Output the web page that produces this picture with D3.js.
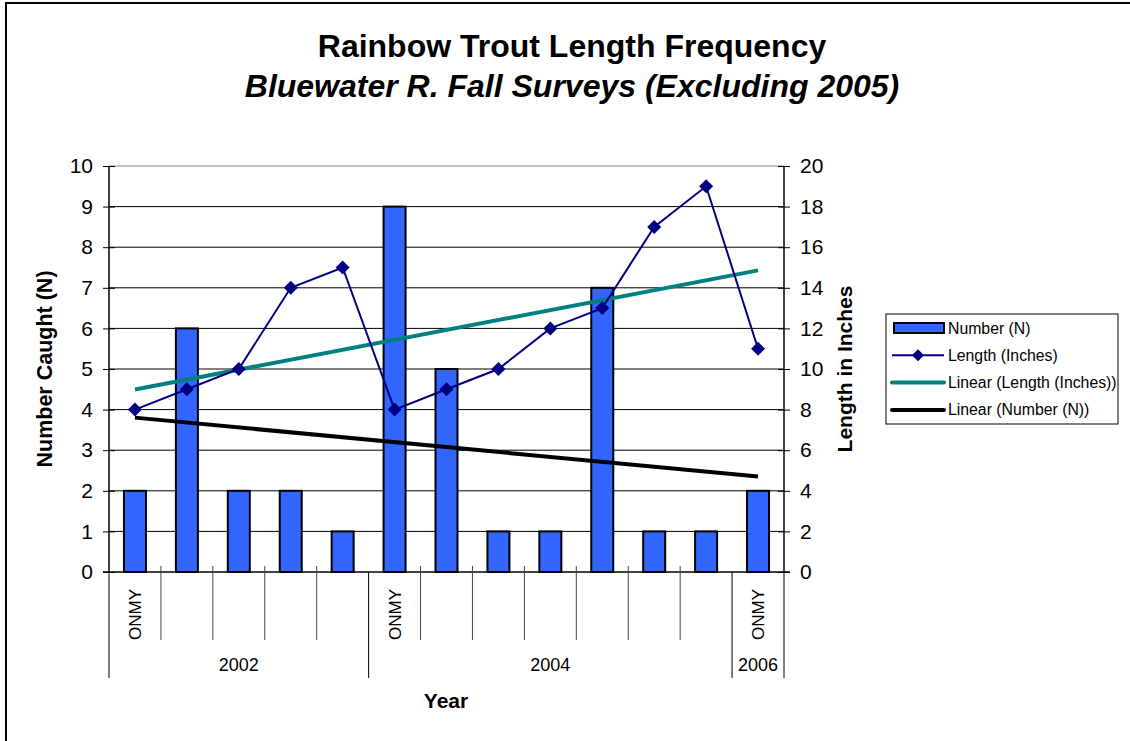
<!DOCTYPE html>
<html>
<head>
<meta charset="utf-8">
<script src="https://cdn.jsdelivr.net/npm/d3@7"></script>
<style>
  body { margin: 0; background: #fff; }
  text { font-family: "Liberation Sans", Arial, sans-serif; }
</style>
</head>
<body>
<script>
// data
var groups = ['2002', '2004', '2006'];
var groupSizes = [5, 7, 1];
var catLabels = ['ONMY', '', '', '', '', 'ONMY', '', '', '', '', '', '', 'ONMY'];
var numbers = [2, 6, 2, 2, 1, 9, 5, 1, 1, 7, 1, 1, 2];
var lengths = [8, 9, 10, 14, 15, 8, 9, 10, 12, 13, 17, 19, 11];
var leftTicks = [0, 1, 2, 3, 4, 5, 6, 7, 8, 9, 10];
var rightTicks = [0, 2, 4, 6, 8, 10, 12, 14, 16, 18, 20];

var width = 1130,
    height = 741,
    pL = 109, pR = 784, pT = 166, pB = 572;

var svg = d3.select("body").append("svg")
    .attr("width", width)
    .attr("height", height);

// outer chart border
svg.append("rect")
    .attr("x", 6).attr("y", 3)
    .attr("width", width + 20).attr("height", height + 20)
    .attr("fill", "none").attr("stroke", "#000").attr("stroke-width", 2);

var idx = d3.range(numbers.length);
var x = d3.scaleBand().domain(idx).range([pL, pR]);
var yL = d3.scaleLinear().domain([0, 10]).range([pB, pT]);
var yR = d3.scaleLinear().domain([0, 20]).range([pB, pT]);

// gridlines
svg.selectAll(".grid")
    .data(leftTicks.slice(1))
    .enter().append("line")
    .attr("x1", pL).attr("x2", pR)
    .attr("y1", d => yL(d)).attr("y2", d => yL(d))
    .style("stroke", d => d == 10 ? "#888" : "#000")
    .style("stroke-width", 1);

// bars
var barW = 22;
svg.selectAll(".bar")
    .data(numbers)
    .enter().append("rect")
    .attr("x", (d, i) => x(i) + x.bandwidth() / 2 - barW / 2)
    .attr("y", d => yL(d))
    .attr("width", barW)
    .attr("height", d => pB - yL(d))
    .style("fill", "#3366FF")
    .style("stroke", "#000")
    .style("stroke-width", 2);

// linear trend (least squares, like the spreadsheet trendline)
function trend(vals) {
  var n = vals.length, xs = vals.map((d, i) => i + 1);
  var mx = d3.mean(xs), my = d3.mean(vals);
  var sxy = d3.sum(xs, (d, i) => (d - mx) * (vals[i] - my));
  var sxx = d3.sum(xs, d => (d - mx) * (d - mx));
  var b = sxy / sxx, a = my - b * mx;
  return [0, n - 1].map(i => ({i: i, v: a + b * (i + 1)}));
}
var cx = i => x(i) + x.bandwidth() / 2;

svg.append("path")
    .datum(trend(lengths))
    .attr("d", d3.line().x(d => cx(d.i)).y(d => yR(d.v)))
    .style("fill", "none").style("stroke", "#008080").style("stroke-width", 4);

svg.append("path")
    .datum(trend(numbers))
    .attr("d", d3.line().x(d => cx(d.i)).y(d => yL(d.v)))
    .style("fill", "none").style("stroke", "#000").style("stroke-width", 4);

// length line
svg.append("path")
    .datum(lengths)
    .attr("d", d3.line().x((d, i) => cx(i)).y(d => yR(d)))
    .style("fill", "none").style("stroke", "#000080").style("stroke-width", 2);

svg.selectAll(".dot")
    .data(lengths)
    .enter().append("path")
    .attr("d", "M0,-7L7,0L0,7L-7,0Z")
    .attr("transform", (d, i) => "translate(" + cx(i) + "," + yR(d) + ")")
    .style("fill", "#000080");

// axes
var axL = svg.append("g").attr("transform", "translate(" + pL + ",0)")
    .call(d3.axisLeft(yL).tickValues(leftTicks).tickSize(6).tickPadding(10));
var axR = svg.append("g").attr("transform", "translate(" + pR + ",0)")
    .call(d3.axisRight(yR).tickValues(rightTicks).tickSize(6).tickPadding(10));
axL.selectAll(".tick line").attr("x1", 6);
axR.selectAll(".tick line").attr("x1", -6);
[axL, axR].forEach(function(g) {
  g.select(".domain").attr("d", "M0," + pT + "V" + pB).style("stroke", "#000").style("stroke-width", 1.5);
  g.selectAll(".tick line").style("stroke", "#000");
  g.selectAll("text").style("font-size", "21px").style("fill", "#000")
    .style("font-family", '"Liberation Sans", Arial, sans-serif');
});

// bottom axis line
svg.append("line")
    .attr("x1", pL - 6).attr("x2", pR + 6)
    .attr("y1", pB).attr("y2", pB)
    .style("stroke", "#000").style("stroke-width", 1.5);

// category separators
var groupStarts = [0];
groupSizes.forEach((s, i) => groupStarts.push(groupStarts[i] + s));
var bounds = d3.range(numbers.length + 1);
svg.selectAll(".sep")
    .data(bounds)
    .enter().append("line")
    .attr("x1", d => pL + d * x.bandwidth())
    .attr("x2", d => pL + d * x.bandwidth())
    .attr("y1", d => groupStarts.indexOf(d) >= 0 ? pB : pB - 6)
    .attr("y2", d => groupStarts.indexOf(d) >= 0 ? 678 : 640)
    .style("stroke", d => groupStarts.indexOf(d) >= 0 ? "#000" : "#444")
    .style("stroke-width", 1);

svg.selectAll(".cat")
    .data(catLabels)
    .enter().append("text")
    .attr("transform", (d, i) => "translate(" + (cx(i) + 6) + ",640) rotate(-90)")
    .style("font-size", "17px")
    .text(d => d);

svg.selectAll(".grp")
    .data(groups)
    .enter().append("text")
    .attr("x", (d, i) => pL + (groupStarts[i] + groupSizes[i] / 2) * x.bandwidth())
    .attr("y", 671)
    .attr("text-anchor", "middle")
    .style("font-size", "18px")
    .text(d => d);

// titles
svg.append("text").attr("x", 572).attr("y", 57).attr("text-anchor", "middle")
    .style("font-size", "32px").style("font-weight", "bold")
    .text("Rainbow Trout Length Frequency");
svg.append("text").attr("x", 572).attr("y", 97).attr("text-anchor", "middle")
    .style("font-size", "32px").style("font-weight", "bold").style("font-style", "italic")
    .text("Bluewater R. Fall Surveys (Excluding 2005)");

svg.append("text").attr("transform", "translate(52,369) rotate(-90)")
    .attr("text-anchor", "middle")
    .style("font-size", "21.5px").style("font-weight", "bold")
    .text("Number Caught (N)");
svg.append("text").attr("transform", "translate(852,369) rotate(-90)")
    .attr("text-anchor", "middle")
    .style("font-size", "21px").style("font-weight", "bold")
    .text("Length in Inches");
svg.append("text").attr("x", 446).attr("y", 708).attr("text-anchor", "middle")
    .style("font-size", "21px").style("font-weight", "bold")
    .text("Year");

// legend
var leg = svg.append("g").attr("transform", "translate(886,314)");
leg.append("rect").attr("width", 232).attr("height", 110)
    .attr("fill", "#fff").attr("stroke", "#000").attr("stroke-width", 1);
var legItems = ['Number (N)', 'Length (Inches)', 'Linear (Length (Inches))', 'Linear (Number (N))'];
legItems.forEach(function(t, i) {
  var yy = 14 + i * 27.3;
  if (i == 0) {
    leg.append("rect").attr("x", 8).attr("y", yy - 5).attr("width", 50).attr("height", 10)
      .style("fill", "#3366FF").style("stroke", "#000").style("stroke-width", 2);
  } else if (i == 1) {
    leg.append("line").attr("x1", 6).attr("x2", 58).attr("y1", yy).attr("y2", yy)
      .style("stroke", "#000080").style("stroke-width", 2);
    leg.append("path").attr("d", "M0,-6L6,0L0,6L-6,0Z")
      .attr("transform", "translate(32," + yy + ")").style("fill", "#000080");
  } else {
    leg.append("line").attr("x1", 6).attr("x2", 58).attr("y1", yy).attr("y2", yy)
      .style("stroke", i == 2 ? "#008080" : "#000").style("stroke-width", 4)
      .style("stroke-linecap", "round");
  }
  leg.append("text").attr("x", 62).attr("y", yy + 5.5)
    .style("font-size", "15.8px").text(t);
});
</script>
</body>
</html>
